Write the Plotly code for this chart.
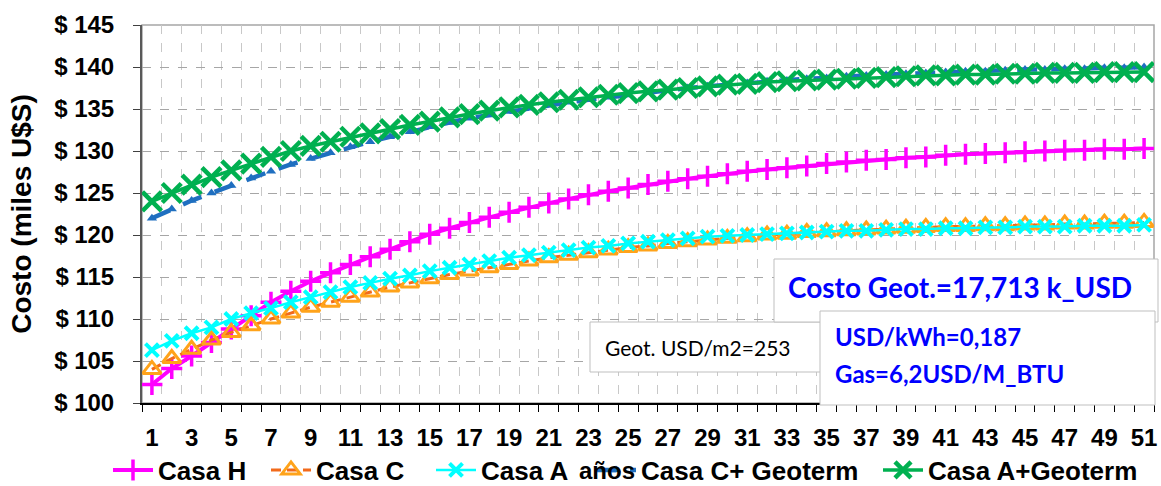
import plotly.graph_objects as go

# Años del horizonte de análisis
anios = list(range(1, 52))
tick_anios = list(range(1, 52, 2))

# Costo acumulado (miles U$S) por tipo de vivienda
casa_h = [102.2, 104.1, 105.6, 107.2, 108.8, 110.4, 112.0, 113.3, 114.5, 115.5,
          116.5, 117.4, 118.3, 119.2, 120.1, 120.8, 121.5, 122.1, 122.7, 123.3,
          123.8, 124.3, 124.8, 125.2, 125.6, 126.0, 126.4, 126.7, 127.0, 127.3,
          127.6, 127.8, 128.0, 128.2, 128.5, 128.7, 128.9, 129.0, 129.2, 129.3,
          129.5, 129.6, 129.7, 129.8, 129.9, 130.0, 130.1, 130.1, 130.2, 130.2, 130.3]
casa_c = [104.0, 105.3, 106.4, 107.5, 108.4, 109.2, 110.0, 110.7, 111.4, 112.0,
          112.6, 113.2, 113.8, 114.3, 114.8, 115.3, 115.7, 116.1, 116.5, 116.9,
          117.3, 117.6, 117.9, 118.2, 118.5, 118.7, 119.0, 119.2, 119.4, 119.6,
          119.8, 120.0, 120.1, 120.3, 120.4, 120.5, 120.6, 120.7, 120.8, 120.9,
          121.0, 121.0, 121.1, 121.1, 121.2, 121.2, 121.3, 121.3, 121.4, 121.4, 121.5]
casa_a = [106.3, 107.4, 108.3, 109.0, 110.0, 110.7, 111.3, 112.0, 112.6, 113.2,
          113.8, 114.3, 114.8, 115.2, 115.7, 116.1, 116.5, 116.9, 117.3, 117.6,
          117.9, 118.2, 118.5, 118.7, 119.0, 119.2, 119.4, 119.6, 119.8, 119.9,
          120.0, 120.1, 120.2, 120.3, 120.4, 120.5, 120.5, 120.6, 120.7, 120.7,
          120.8, 120.8, 120.9, 120.9, 121.0, 121.0, 121.0, 121.1, 121.1, 121.1, 121.2]
casa_c_geo = [122.0, 123.1, 124.1, 125.0, 125.9, 126.8, 127.6, 128.4, 129.1, 129.8,
              130.5, 131.1, 131.7, 132.3, 132.9, 133.4, 133.9, 134.3, 134.7, 135.1,
              135.5, 135.8, 136.1, 136.4, 136.7, 137.0, 137.2, 137.5, 137.7, 137.9,
              138.1, 138.3, 138.4, 138.6, 138.7, 138.9, 139.0, 139.1, 139.2, 139.3,
              139.4, 139.5, 139.5, 139.6, 139.7, 139.7, 139.8, 139.8, 139.9, 139.9, 140.0]
casa_a_geo = [124.0, 125.0, 126.0, 126.9, 127.7, 128.5, 129.3, 130.0, 130.6, 131.1,
              131.7, 132.1, 132.6, 133.1, 133.5, 134.0, 134.4, 134.8, 135.2, 135.5,
              135.8, 136.1, 136.4, 136.7, 136.9, 137.1, 137.3, 137.5, 137.7, 137.9,
              138.0, 138.2, 138.3, 138.4, 138.5, 138.6, 138.7, 138.8, 138.9, 139.0,
              139.0, 139.1, 139.1, 139.2, 139.2, 139.3, 139.3, 139.3, 139.4, 139.4, 139.4]

W, H = 1161, 486
L, R, T, B = 142, 1154, 25, 403


def px(x):
    return (x - L) / (R - L)


def py(y):
    return (B - y) / (B - T)


fig = go.Figure()

fig.add_trace(go.Scatter(
    x=anios, y=casa_h, name="Casa H", mode="lines+markers", legend="legend",
    line=dict(color="#FF00FF", width=4),
    marker=dict(symbol="cross-thin", size=15, line=dict(color="#FF00FF", width=3.5)),
))
fig.add_trace(go.Scatter(
    x=anios, y=casa_c, name="Casa C", mode="lines+markers", legend="legend2",
    line=dict(color="#F26A1B", width=3, dash="10px,6px"),
    marker=dict(symbol="triangle-up-open", size=16, color="#FFA31A",
                line=dict(color="#FFA31A", width=3)),
))
fig.add_trace(go.Scatter(
    x=anios, y=casa_a, name="Casa A", mode="lines+markers", legend="legend3",
    line=dict(color="#00FFFF", width=2.5),
    marker=dict(symbol="x-thin", size=13, line=dict(color="#00FFFF", width=4)),
))
fig.add_trace(go.Scatter(
    x=anios, y=casa_c_geo, name="Casa C+ Geoterm", mode="lines+markers", legend="legend4",
    line=dict(color="#1F6FC0", width=4.5, dash="20px,14px"),
    marker=dict(symbol="triangle-up", size=9, color="#1F6FC0"),
))
fig.add_trace(go.Scatter(
    x=anios, y=casa_a_geo, name="Casa A+Geoterm", mode="lines+markers", legend="legend5",
    line=dict(color="#00B050", width=3.5),
    marker=dict(symbol="x-thin", size=19, line=dict(color="#00B050", width=4.5)),
))

axis_font = dict(family="Liberation Sans, Arial", size=24, color="#000000", weight="bold")

fig.update_xaxes(
    range=[0.5, 51.5],
    tickmode="array", tickvals=tick_anios, ticktext=[str(v) for v in tick_anios],
    ticks="", showgrid=False, zeroline=False,
    tickfont=axis_font, ticklabelstandoff=12,
    showline=True, linecolor="#000000", linewidth=2,
    minor=dict(tick0=0.5, dtick=1, ticks="outside", ticklen=7, tickcolor="#000000",
               tickwidth=1, showgrid=True, gridcolor="#C8C8C8", griddash="dash",
               gridwidth=1),
)
fig.update_yaxes(
    range=[100, 145], dtick=5, tickprefix="$ ",
    ticks="outside", ticklen=7, tickcolor="#404040", tickwidth=1,
    showgrid=True, gridcolor="#A6A6A6", griddash="dash", gridwidth=1,
    zeroline=False, tickfont=axis_font, ticklabelstandoff=14,
    showline=True, linecolor="#595959", linewidth=2,
    title=dict(text="Costo (miles U$S)", standoff=14,
               font=dict(family="Liberation Sans, Arial", size=28, color="#000000",
                         weight="bold")),
)

# Recuadros de parámetros
box_line = dict(color="#BFBFBF", width=1)
shapes = [
    dict(type="rect", xref="paper", yref="paper", layer="above",
         x0=px(590), x1=px(822), y0=py(372), y1=py(322),
         fillcolor="#FFFFFF", line=box_line),
    dict(type="rect", xref="paper", yref="paper", layer="above",
         x0=px(774), x1=px(1158), y0=py(322), y1=py(259),
         fillcolor="#FFFFFF", line=box_line),
    dict(type="rect", xref="paper", yref="paper", layer="above",
         x0=px(820), x1=px(1155), y0=py(405), y1=py(311),
         fillcolor="#FFFFFF", line=box_line),
    # marco del área de trazado
    dict(type="rect", xref="paper", yref="paper", layer="below",
         x0=0, x1=1, y0=0, y1=1, line=dict(color="#A6A6A6", width=1.5)),
]

box_font = "Lato, Open Sans, sans-serif"
annotations = [
    dict(text="Geot. USD/m2=253", xref="paper", yref="paper",
         x=px(603), y=py(347), xanchor="left", yanchor="middle", showarrow=False,
         font=dict(family=box_font, size=21, color="#000000")),
    dict(text="<b>Costo Geot.=17,713 k_USD</b>", xref="paper", yref="paper",
         x=px(786), y=py(287), xanchor="left", yanchor="middle", showarrow=False,
         font=dict(family=box_font, size=28, color="#0000FF")),
    dict(text="<b>USD/kWh=0,187</b>", xref="paper", yref="paper",
         x=px(833), y=py(336), xanchor="left", yanchor="middle", showarrow=False,
         font=dict(family=box_font, size=24, color="#0000FF")),
    dict(text="<b>Gas=6,2USD/M_BTU</b>", xref="paper", yref="paper",
         x=px(833), y=py(373), xanchor="left", yanchor="middle", showarrow=False,
         font=dict(family=box_font, size=24, color="#0000FF")),
    dict(text="<b>años</b>", xref="paper", yref="paper",
         x=px(607), y=py(470), xanchor="center", yanchor="middle", showarrow=False,
         font=dict(family="Liberation Sans, Arial", size=24, color="#000000")),
]


def legend_at(text_left):
    # una leyenda por serie, ubicada por la posición del texto
    return dict(
        orientation="h", xref="container", yref="container",
        x=(text_left - 52) / W, y=(H - 470) / H, xanchor="left", yanchor="middle",
        font=dict(family="Liberation Sans, Arial", size=26, color="#000000",
                  weight="bold"),
        itemwidth=40, bgcolor="rgba(0,0,0,0)",
    )


fig.update_layout(
    width=W, height=H,
    margin=dict(l=L, r=W - R, t=T, b=H - B, autoexpand=False),
    plot_bgcolor="#FFFFFF", paper_bgcolor="#FFFFFF",
    font=dict(family="Liberation Sans, Arial", color="#000000"),
    showlegend=True,
    legend=legend_at(160),
    legend2=legend_at(318),
    legend3=legend_at(483),
    legend4=legend_at(643),
    legend5=legend_at(930),
    shapes=shapes,
    annotations=annotations,
)

fig.write_html("out.html")
